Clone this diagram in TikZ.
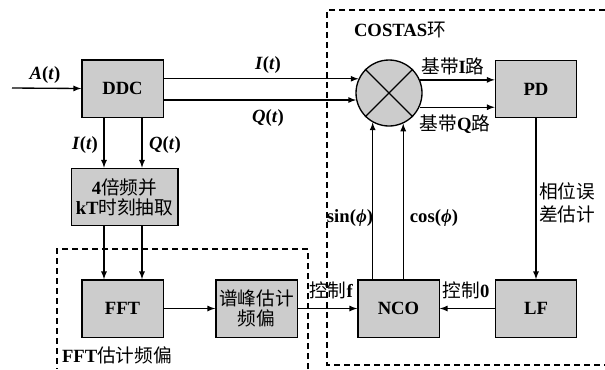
\documentclass[tikz,border=0pt]{standalone}
\usepackage{fontspec}
\setmainfont{Liberation Serif}
\newfontfamily\cjk{Noto Sans CJK SC}
\newcommand{\zh}[1]{{\mdseries\cjk #1}}
\usetikzlibrary{shapes,arrows,positioning,calc}

\begin{document}
\begin{tikzpicture}[x=0.75pt, y=-0.75pt,
        box/.style={rectangle, draw=black, line width=1pt, minimum width=61pt, minimum height=43pt, inner sep=0pt, align=center, fill=black!20, font=\bfseries\fontsize{14}{15}\selectfont},
        arrow/.style={->, line width=1pt, >=latex},
        lbl/.style={inner sep=1pt, align=left, font=\bfseries\fontsize{14}{15}\selectfont},
        group/.style={line width=1pt, dash pattern=on 4.5pt off 3pt}]

        \useasboundingbox (0,0) rectangle (605,369);

        % dashed groups
        \draw[group] (605,10) -- (327,10) -- (327,365) -- (605,365);
        \draw[group] (308,369) -- (308,249) -- (57,249) -- (57,369);
        \node[lbl] (costas) at (400,30) {COSTAS\zh{环}};
        \node[lbl] (fftgrp) at (117,355) {FFT\zh{估计频偏}};

        % blocks
        \node[box] (DDC) at (122.5,88.5) {DDC};
        \node[box, minimum width=80pt] (quad) at (124.5,197) {4\zh{倍频并}\\kT\zh{时刻抽取}};
        \node[box] (FFT) at (122.5,308.5) {FFT};
        \node[box] (est) at (256.5,308.5) {\zh{谱峰估计}\\\zh{频偏}};
        \node[box] (NCO) at (398.5,308.5) {NCO};
        \node[box] (LF) at (536,308.5) {LF};
        \node[box] (PD) at (536,89) {PD};
        \node[circle, draw=black, line width=1pt, fill=black!20, minimum size=49.5pt, inner sep=0pt] (mix) at (389,93) {};
        \draw[line width=1pt] (mix.45) -- (mix.225) (mix.135) -- (mix.315);

        \coordinate (in) at (12,88);
        \coordinate (iL) at (104,0);
        \coordinate (qL) at (142,0);

        % input and DDC outputs
        \draw[arrow] (in) -- (DDC.west);
        \node[lbl] (at) at (45,75) {\textit{A}(\textit{t})};
        \draw[arrow] (DDC.east |- mix.155) -- (mix.155);
        \draw[arrow] (DDC.east |- mix.192) -- (mix.192);
        \node[lbl] (it) at (268,65) {\textit{I}(\textit{t})};
        \node[lbl] (qt) at (268,118) {\textit{Q}(\textit{t})};

        \draw[arrow] (DDC.south -| iL) -- (quad.north -| iL);
        \draw[arrow] (DDC.south -| qL) -- (quad.north -| qL);
        \node[lbl] (it2) at (85,145) {\textit{I}(\textit{t})};
        \node[lbl] (qt2) at (165,145) {\textit{Q}(\textit{t})};

        \draw[arrow] (quad.south -| iL) -- (FFT.north -| iL);
        \draw[arrow] (quad.south -| qL) -- (FFT.north -| qL);
        \draw[arrow] (FFT.east) -- (est.west);

        % costas loop
        \draw[arrow] (mix.23) -- (PD.west |- mix.23);
        \draw[arrow] (mix.335) -- (PD.west |- mix.335);
        \node[lbl] (bi) at (453,66) {\zh{基带}I\zh{路}};
        \node[lbl] (bq) at (455,124) {\zh{基带}Q\zh{路}};

        \draw[arrow] (PD.south) -- (LF.north);
        \node[lbl] (err) at (567,203) {\zh{相位误}\\[2pt]\zh{差估计}};

        \draw[arrow] (LF.west) -- (NCO.east);
        \node[lbl] (c0) at (466,290) {\zh{控制}0};
        \draw[arrow] (est.east) -- (NCO.west);
        \node[lbl] (cf) at (331,290) {\zh{控制}f};

        \draw[arrow] (mix.241 |- NCO.north) -- (mix.241);
        \draw[arrow] (mix.295 |- NCO.north) -- (mix.295);
        \node[lbl] (sin) at (350,218) {sin(\textit{ϕ})};
        \node[lbl] (cos) at (434,218) {cos(\textit{ϕ})};

    \end{tikzpicture}
\end{document}
